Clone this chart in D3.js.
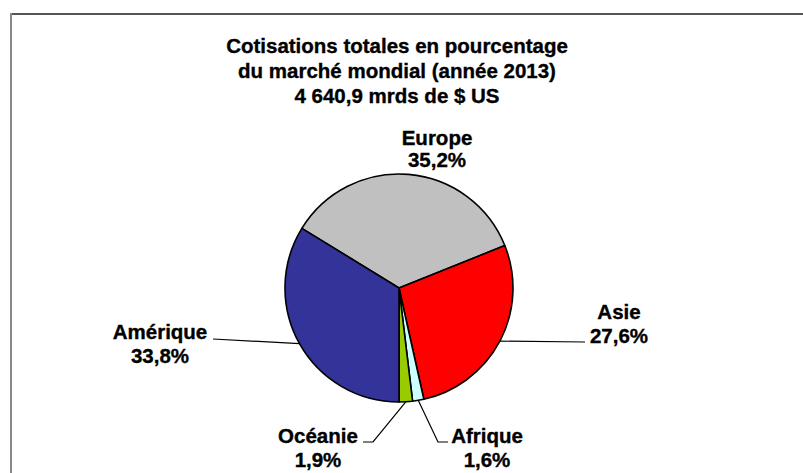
<!DOCTYPE html>
<html>
<head>
<meta charset="utf-8">
<script src="https://cdn.jsdelivr.net/npm/d3@7"></script>
<style>
  html, body { margin: 0; padding: 0; background: #fff; }
  svg { display: block; }
  text { font-family: "Liberation Sans", Arial, sans-serif; font-weight: bold; fill: #000; stroke: #000; stroke-width: 0.35px; }
</style>
</head>
<body>
<svg id="chart" width="803" height="473"></svg>
<script>
// ---- data ----
const categories = ["Europe", "Asie", "Afrique", "Océanie", "Amérique"];
const values = [35.2, 27.6, 1.6, 1.9, 33.8];
const valueLabels = ["35,2%", "27,6%", "1,6%", "1,9%", "33,8%"];
const colors = ["#C0C0C0", "#FF0000", "#CCFFFF", "#99CC00", "#333399"];
const titleLines = [
  "Cotisations totales en pourcentage",
  "du marché mondial (année 2013)",
  "4 640,9 mrds de $ US"
];

// ---- layout ----
const W = 803, H = 473;
const cx = 399, cy = 288, R = 114;
const fontSize = 20.5;

const svg = d3.select("#chart");

// chart-area frame (only top and left edges visible)
svg.append("line").attr("x1", 11).attr("y1", 14).attr("x2", W).attr("y2", 14)
  .attr("stroke", "#555").attr("stroke-width", 2);
svg.append("line").attr("x1", 11).attr("y1", 13).attr("x2", 11).attr("y2", H)
  .attr("stroke", "#888").attr("stroke-width", 2);

// title
const title = svg.append("text").attr("text-anchor", "middle").style("font-size", fontSize + "px");
titleLines.forEach((t, i) => {
  title.append("tspan").attr("x", 397).attr("y", 53 + i * 25).text(t);
});

// pie: Amérique (last slice) starts at 6 o'clock
const total = d3.sum(values);
const before = d3.sum(values.slice(0, values.length - 1));
const start = Math.PI - 2 * Math.PI * before / total;

const pie = d3.pie().sort(null).value(d => d)
  .startAngle(start).endAngle(start + 2 * Math.PI);
const arcs = pie(values);
const arc = d3.arc().innerRadius(0).outerRadius(R);

const g = svg.append("g").attr("transform", `translate(${cx},${cy})`);
g.selectAll("path").data(arcs).join("path")
  .attr("d", arc)
  .attr("fill", (d, i) => colors[i])
  .attr("stroke", "#000")
  .attr("stroke-width", 1.6)
  .attr("stroke-linejoin", "round");

// label placement (text centre x, first baseline y, leader path end points)
const labelLayout = [
  { x: 437, y: 145, dy: 22, leader: null },
  { x: 619, y: 319, dy: 24, leader: [[585, 342]] },
  { x: 487, y: 443, dy: 24, leader: [[448, 442], [438, 442]] },
  { x: 318, y: 443, dy: 24, leader: [[363, 442], [373, 442]] },
  { x: 160, y: 339, dy: 24, leader: [[213, 339]] }
];

arcs.forEach((a, i) => {
  const L = labelLayout[i];
  if (L.leader) {
    const mid = (a.startAngle + a.endAngle) / 2;
    const px = cx + R * Math.sin(mid), py = cy - R * Math.cos(mid);
    const pts = [[px, py]].concat(L.leader.slice().reverse());
    svg.append("path")
      .attr("d", d3.line()(pts))
      .attr("fill", "none").attr("stroke", "#000").attr("stroke-width", 1.2);
  }
  const t = svg.append("text").attr("text-anchor", "middle").style("font-size", fontSize + "px");
  t.append("tspan").attr("x", L.x).attr("y", L.y).text(categories[i]);
  t.append("tspan").attr("x", L.x).attr("y", L.y + L.dy).text(valueLabels[i]);
});
</script>
</body>
</html>
